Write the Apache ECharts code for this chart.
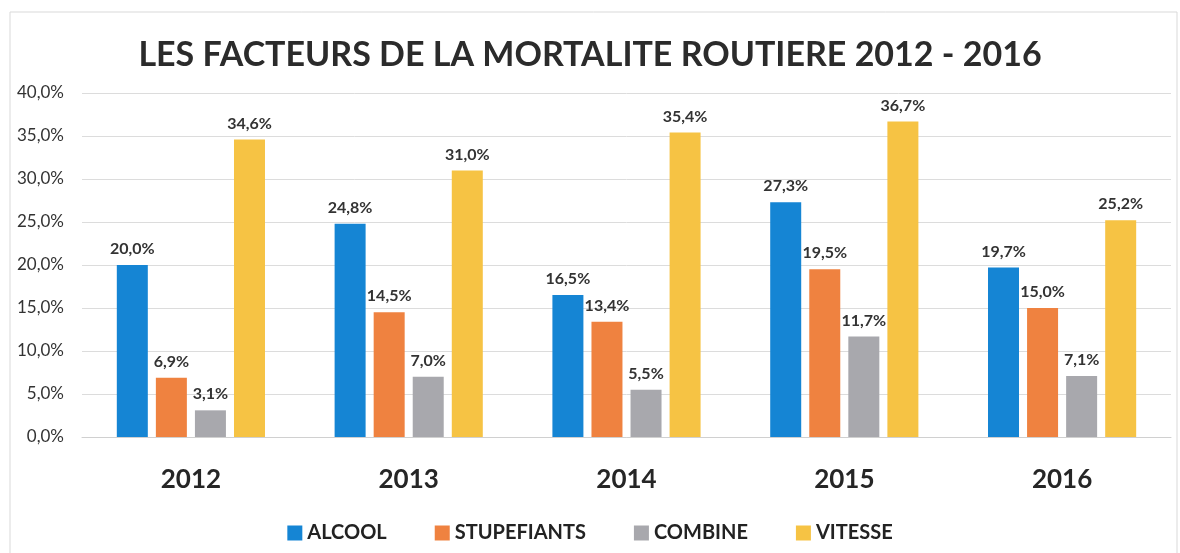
<html>
<head>
<meta charset="utf-8">
<script type="text/javascript" src="https://cdn.jsdelivr.net/npm/echarts@6/dist/echarts.min.js"></script>
<style type="text/css">
	body { margin: 0; background: #fff; }
	#chart { width: 1180px; height: 553px; }
</style>
<title>Mortalite routiere</title>
</head>
<body>
<div id="chart"></div>
<script type="text/javascript">
// donnees
var years = ['2012', '2013', '2014', '2015', '2016'];
var alcool = [20.0, 24.8, 16.5, 27.3, 19.7];
var stupefiants = [6.9, 14.5, 13.4, 19.5, 15.0];
var combine = [3.1, 7.0, 5.5, 11.7, 7.1];
var vitesse = [34.6, 31.0, 35.4, 36.7, 25.2];

var seriesNames = ['ALCOOL', 'STUPEFIANTS', 'COMBINE', 'VITESSE'];
var seriesColors = ['#1585d4', '#ef8240', '#a8a8ad', '#f6c344'];

var fontFam = 'Lato, "Open Sans", sans-serif';

function fmt(v) {
	return v.toFixed(1).replace('.', ',') + '%';
}

function makeSeries(name, data, color) {
	return {
		name: name,
		type: 'bar',
		data: data,
		barWidth: 31,
		barGap: '26%',
		itemStyle: { color: color },
		label: {
			show: true,
			position: 'top',
			distance: 8,
			fontFamily: fontFam,
			fontWeight: 'bold',
			fontSize: 16,
			color: '#333',
			formatter: function (p) { return fmt(p.value); }
		}
	};
}

var option = {
	backgroundColor: '#fff',
	animation: false,
	title: {
		text: 'LES FACTEURS DE LA MORTALITE ROUTIERE 2012 - 2016',
		left: 'center',
		top: 33,
		textStyle: {
			fontFamily: fontFam,
			fontWeight: 'bold',
			fontSize: 34,
			color: '#2b2b2b'
		}
	},
	graphic: [{
		type: 'rect',
		shape: { x: 10, y: 12, width: 1167, height: 545 },
		style: { fill: 'none', stroke: '#d9d9d9', lineWidth: 1 },
		silent: true
	}],
	legend: {
		bottom: 5,
		left: 'center',
		itemWidth: 15,
		itemHeight: 15,
		itemGap: 48,
		icon: 'rect',
		textStyle: {
			fontFamily: fontFam,
			fontWeight: 'bold',
			fontSize: 20,
			color: '#222'
		},
		data: seriesNames
	},
	grid: {
		left: 82,
		right: 9,
		top: 93,
		bottom: 116,
		containLabel: false
	},
	xAxis: {
		type: 'category',
		data: years,
		axisTick: { show: false },
		axisLine: { lineStyle: { color: '#d0d0d0' } },
		axisLabel: {
			margin: 30,
			fontFamily: fontFam,
			fontWeight: 'bold',
			fontSize: 26,
			color: '#262626'
		}
	},
	yAxis: {
		type: 'value',
		min: 0,
		max: 40,
		interval: 5,
		splitLine: { lineStyle: { color: '#dcdcdc' } },
		axisLabel: {
			margin: 18,
			fontFamily: fontFam,
			fontSize: 17,
			color: '#333',
			formatter: function (v) { return fmt(v); }
		}
	},
	series: [
		makeSeries(seriesNames[0], alcool, seriesColors[0]),
		makeSeries(seriesNames[1], stupefiants, seriesColors[1]),
		makeSeries(seriesNames[2], combine, seriesColors[2]),
		makeSeries(seriesNames[3], vitesse, seriesColors[3])
	]
};

var myChart = echarts.init(document.getElementById('chart'));
myChart.setOption(option);
</script>
</body>
</html>
